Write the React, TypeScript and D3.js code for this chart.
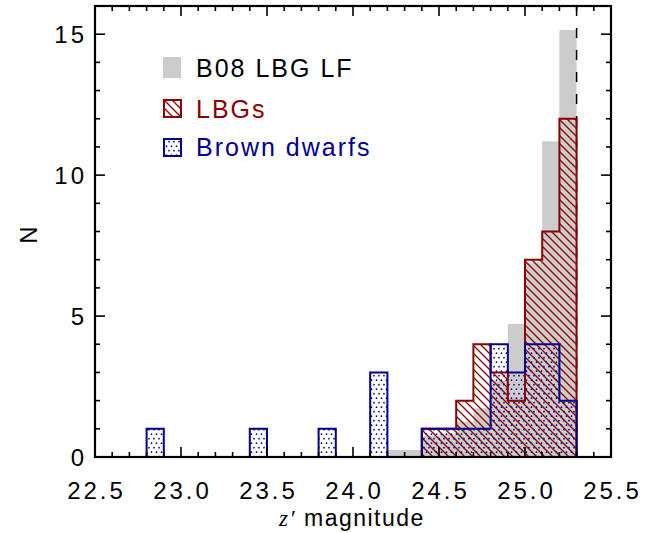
import React from "react";
import * as d3 from "d3";

const binWidth = 0.1;
const lfBins = [24.2, 24.3, 24.4, 24.5, 24.6, 24.7, 24.8, 24.9, 25.0, 25.1, 25.2];
const lfCounts = [0.25, 0.25, 0.75, 0.8, 1.25, 1.73, 2.7, 4.72, 6.9, 11.2, 15.15];
const lbgBins = [24.4, 24.5, 24.6, 24.7, 24.8, 24.9, 25.0, 25.1, 25.2];
const lbgCounts = [1, 1, 2, 4, 3, 2, 7, 8, 12];
const bdBins = [22.8, 23.4, 23.8, 24.1, 24.4, 24.5, 24.6, 24.7, 24.8, 24.9, 25.0, 25.1, 25.2];
const bdCounts = [1, 1, 1, 3, 1, 1, 1, 1, 4, 3, 4, 4, 2];
const magLimit = 25.3;

const xTicks = [22.5, 23.0, 23.5, 24.0, 24.5, 25.0, 25.5];
const yTicks = [0, 5, 10, 15];
const legendLabels = ["B08 LBG LF", "LBGs", "Brown dwarfs"];

const W = 654, H = 533;
const RED = "#8b0000";
const BLUE = "#00008b";
const GRAY = "#cccccc";
const FONT = "'Liberation Sans', Arial, Helvetica, sans-serif";

const x = d3.scaleLinear().domain([22.5, 25.5]).range([95, 611]);
const y = d3.scaleLinear().domain([0, 16]).range([457, 6]);

function stepPath(bins: number[], counts: number[]): string {
  const p = d3.path();
  let i = 0;
  while (i < bins.length) {
    let j = i;
    while (j + 1 < bins.length && Math.abs(bins[j + 1] - (bins[j] + binWidth)) < 1e-6) j++;
    p.moveTo(x(bins[i]), y(0));
    for (let k = i; k <= j; k++) {
      p.lineTo(x(bins[k]), y(counts[k]));
      p.lineTo(x(bins[k] + binWidth), y(counts[k]));
    }
    p.lineTo(x(bins[j] + binWidth), y(0));
    p.closePath();
    i = j + 1;
  }
  return p.toString();
}

export default function App() {
  const minorX = d3.range(0, 31).map((i) => 22.5 + i * 0.1);
  const minorY = d3.range(0, 17);
  const lbgPath = stepPath(lbgBins, lbgCounts);
  const bdPath = stepPath(bdBins, bdCounts);
  const [x0, x1] = x.range();
  const [yb, yt] = y.range();
  return (
    <svg width={W} height={H} style={{ position: "absolute", left: 0, top: 0 }} fontFamily={FONT}>
      <defs>
        <pattern id="hatch" patternUnits="userSpaceOnUse" width={8} height={8}>
          <path d="M-2,-2 L10,10 M-2,6 L2,10 M6,-2 L10,2" stroke={RED} strokeWidth={1.3} />
        </pattern>
        <pattern id="dots" patternUnits="userSpaceOnUse" width={5} height={9}>
          <circle cx={1.5} cy={2.2} r={0.85} fill={BLUE} />
          <circle cx={4} cy={6.7} r={0.85} fill={BLUE} />
        </pattern>
        <clipPath id="plotclip">
          <rect x={x0} y={yt} width={x1 - x0} height={yb - yt} />
        </clipPath>
      </defs>
      <rect width={W} height={H} fill="white" />
      <g clipPath="url(#plotclip)">
        {lfBins.map((b, i) => (
          <rect key={i} x={x(b)} y={y(lfCounts[i])} width={x(b + binWidth) - x(b)} height={y(0) - y(lfCounts[i])} fill={GRAY} />
        ))}
        <line x1={x(magLimit)} x2={x(magLimit)} y1={yt} y2={yb} stroke="black" strokeWidth={1.5} strokeDasharray="10,12" />
        <path d={lbgPath} fill="url(#hatch)" />
        <path d={bdPath} fill="url(#dots)" />
        <path d={lbgPath} fill="none" stroke={RED} strokeWidth={2} />
        <path d={bdPath} fill="none" stroke={BLUE} strokeWidth={2} />
      </g>
      <g stroke="black" strokeWidth={1.6}>
        {minorX.map((v, i) => {
          const major = i % 5 === 0;
          const len = major ? 10 : 5;
          return (
            <g key={i}>
              <line x1={x(v)} x2={x(v)} y1={yb} y2={yb - len} />
              <line x1={x(v)} x2={x(v)} y1={yt} y2={yt + len} />
            </g>
          );
        })}
        {minorY.map((v, i) => {
          const major = v % 5 === 0;
          const len = major ? 10 : 5;
          return (
            <g key={i}>
              <line x1={x0} x2={x0 + len} y1={y(v)} y2={y(v)} />
              <line x1={x1} x2={x1 - len} y1={y(v)} y2={y(v)} />
            </g>
          );
        })}
      </g>
      <rect x={x0} y={yt} width={x1 - x0} height={yb - yt} fill="none" stroke="black" strokeWidth={2.2} />
      {xTicks.map((v, i) => (
        <text key={i} x={x(v) + 1.5} y={499} textAnchor="middle" fontSize={24} letterSpacing={3} fill="black">
          {v.toFixed(1)}
        </text>
      ))}
      {yTicks.map((v, i) => (
        <text key={i} x={87} y={y(v) + 8.5} textAnchor="end" fontSize={24} letterSpacing={3} fill="black">
          {String(v)}
        </text>
      ))}
      <text transform="translate(37,235) rotate(-90)" textAnchor="middle" fontSize={24} fill="black">N</text>
      <text x={352} y={526} textAnchor="middle" fontSize={23} letterSpacing={1.5} fill="black">
        <tspan fontFamily="'Liberation Serif', 'DejaVu Serif', serif" fontStyle="italic">z′</tspan> magnitude
      </text>
      <rect x={163} y={57} width={18} height={21} fill={GRAY} />
      <rect x={164} y={100} width={17} height={17} fill="url(#hatch)" stroke={RED} strokeWidth={2} />
      <rect x={164} y={139} width={17} height={17} fill="url(#dots)" stroke={BLUE} strokeWidth={2} />
      <text x={196} y={77} fontSize={25} letterSpacing={2} fill="black">{legendLabels[0]}</text>
      <text x={196} y={118} fontSize={25} letterSpacing={2} fill={RED}>{legendLabels[1]}</text>
      <text x={196} y={156} fontSize={25} letterSpacing={2} fill={BLUE}>{legendLabels[2]}</text>
    </svg>
  );
}
